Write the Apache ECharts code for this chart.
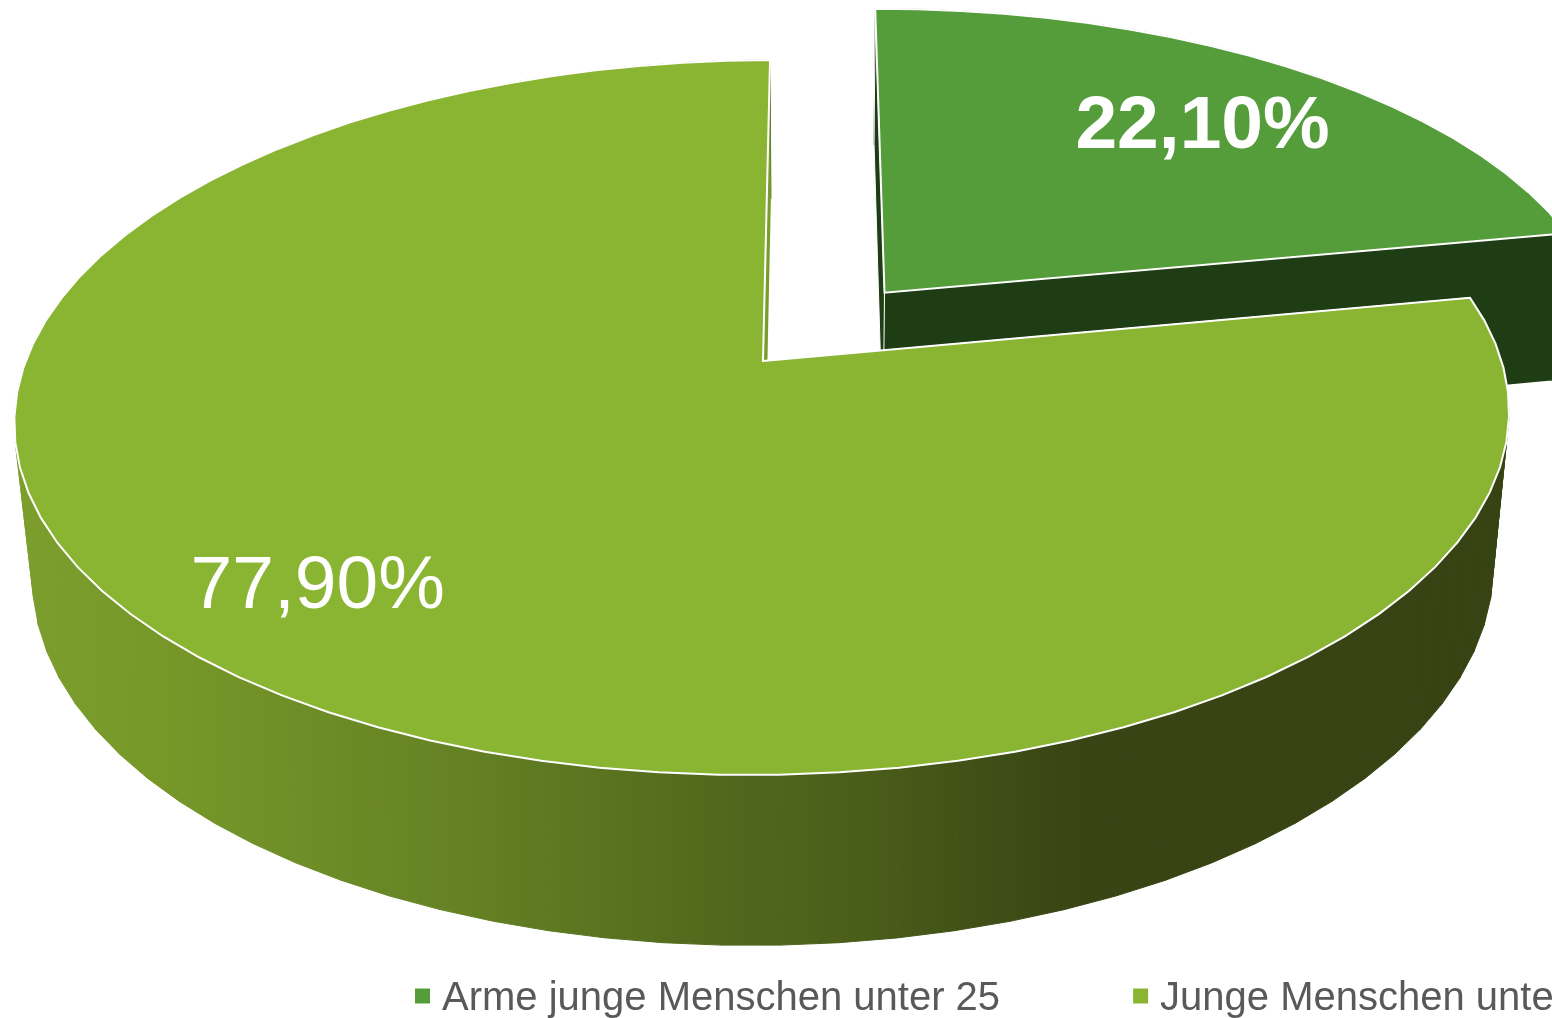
<!DOCTYPE html>
<html>
<head>
<meta charset="utf-8">
<style>html,body{margin:0;padding:0;background:#fff;overflow:hidden}#c{width:1552px;height:1018px}</style>
<script src="https://cdn.jsdelivr.net/npm/echarts@6/dist/echarts.min.js"></script>
</head>
<body>
<div id="c"></div>
<script>
// ---- data ----
var sliceNames = ['Arme junge Menschen unter 25', 'Junge Menschen unter 25'];
var sliceValues = [22.1, 77.9];
var sliceLabels = ['22,10%', '77,90%'];
// ---- style ----
var topColors = ['#559c3a', '#8ab533'];
var labelWeights = ['bold', 'normal'];
var explode = [0.262, 0];
var labelPos = [[0.49, 0.545], [-0.541, -0.586]];
var darkWall = '#1f3d14';
var sliverWall = '#7a9c2c';
var rimStops = [
  [0, '#7c9e2d'], [0.10, '#769829'], [0.30, '#648224'], [0.48, '#51671c'],
  [0.57, '#4a5e1a'], [0.67, '#3e4c16'], [0.72, '#384414'], [1, '#374313']
];
// ---- projection of the disc (u right, v back, z down) onto the page ----
var P = {x0: 763, y0: 361, A: 738, B: 128.7, C: -2, D: -291.5, k: 0.158, n: 0.0227, dx: 18.5, dy: 165};
function proj(u, v, z) {
  var w = 1 + P.k * v + P.n * z;
  return [(P.x0 + P.A * u + P.B * v + P.dx * z) / w, (P.y0 + P.C * u + P.D * v + P.dy * z) / w];
}
function sliceRender(i) {
  return function (params, api) {
    var val = api.value(0);
    var total = sliceValues.reduce(function (a, b) { return a + b; }, 0);
    var before = 0;
    for (var j = 0; j < i; j++) before += sliceValues[j];
    var a0 = before / total * Math.PI * 2;
    var a1 = (before + val) / total * Math.PI * 2;
    var mid = (a0 + a1) / 2;
    var ou = explode[i] * Math.sin(mid), ov = explode[i] * Math.cos(mid);
    var steps = Math.ceil((a1 - a0) / (4 * Math.PI / 180));
    function arc(z) {
      var pts = [];
      for (var s = 0; s <= steps; s++) {
        var a = a0 + (a1 - a0) * s / steps;
        pts.push(proj(ou + Math.sin(a), ov + Math.cos(a), z));
      }
      return pts;
    }
    var top = arc(0), bottom = arc(1);
    var apexT = proj(ou, ov, 0), apexB = proj(ou, ov, 1);
    var rimFill = i === 0 ? darkWall : new echarts.graphic.LinearGradient(14, 0, 1500, 0,
      rimStops.map(function (s) { return {offset: s[0], color: s[1]}; }), true);
    var wallFill = i === 0 ? darkWall : sliverWall;
    var children = [];
    for (var q = 0; q < steps; q++) {
      children.push({type: 'polygon', shape: {points: [top[q], top[q + 1], bottom[q + 1], bottom[q]]},
        style: {fill: rimFill, stroke: rimFill, lineWidth: 1}});
    }
    children.push({type: 'polygon', shape: {points: [apexT, top[steps], bottom[steps], apexB]}, style: {fill: wallFill}});
    children.push({type: 'polygon', shape: {points: [apexT, top[0], bottom[0], apexB]},
      style: {fill: wallFill, stroke: '#ffffff', lineWidth: 1}});
    children.push({type: 'polygon', shape: {points: [apexT].concat(top)},
      style: {fill: topColors[i], stroke: '#ffffff', lineWidth: 2, lineJoin: 'miter'}});
    var lp = proj(labelPos[i][0] + ou, labelPos[i][1] + ov, 0);
    children.push({type: 'text', x: lp[0], y: lp[1], style: {
      text: sliceLabels[i], fill: '#ffffff', fontSize: 75, fontWeight: labelWeights[i],
      fontFamily: '"Liberation Sans", Arial, sans-serif', align: 'center', verticalAlign: 'middle'}});
    return {type: 'group', children: children};
  };
}
var chart = echarts.init(document.getElementById('c'), null, {renderer: 'canvas', width: 1552, height: 1018});
chart.setOption({
  animation: false,
  backgroundColor: '#ffffff',
  color: topColors,
  legend: {
    show: true, left: 415, top: 979, width: 3000, padding: 0,
    icon: 'rect', itemWidth: 15, itemHeight: 15, itemGap: 133,
    selectedMode: false,
    data: sliceNames,
    formatter: '{t|{name}}',
    textStyle: {color: '#595959', fontSize: 40, fontFamily: '"Liberation Sans", Arial, sans-serif',
      rich: {t: {color: '#595959', fontSize: 40, fontFamily: '"Liberation Sans", Arial, sans-serif', padding: [6, 0, 0, 7]}}}
  },
  series: sliceNames.map(function (name, i) {
    return {
      type: 'custom', name: name, coordinateSystem: 'none', silent: true,
      renderItem: sliceRender(i),
      data: [[sliceValues[i]]],
      itemStyle: {color: topColors[i]}
    };
  })
});
</script>
</body>
</html>
